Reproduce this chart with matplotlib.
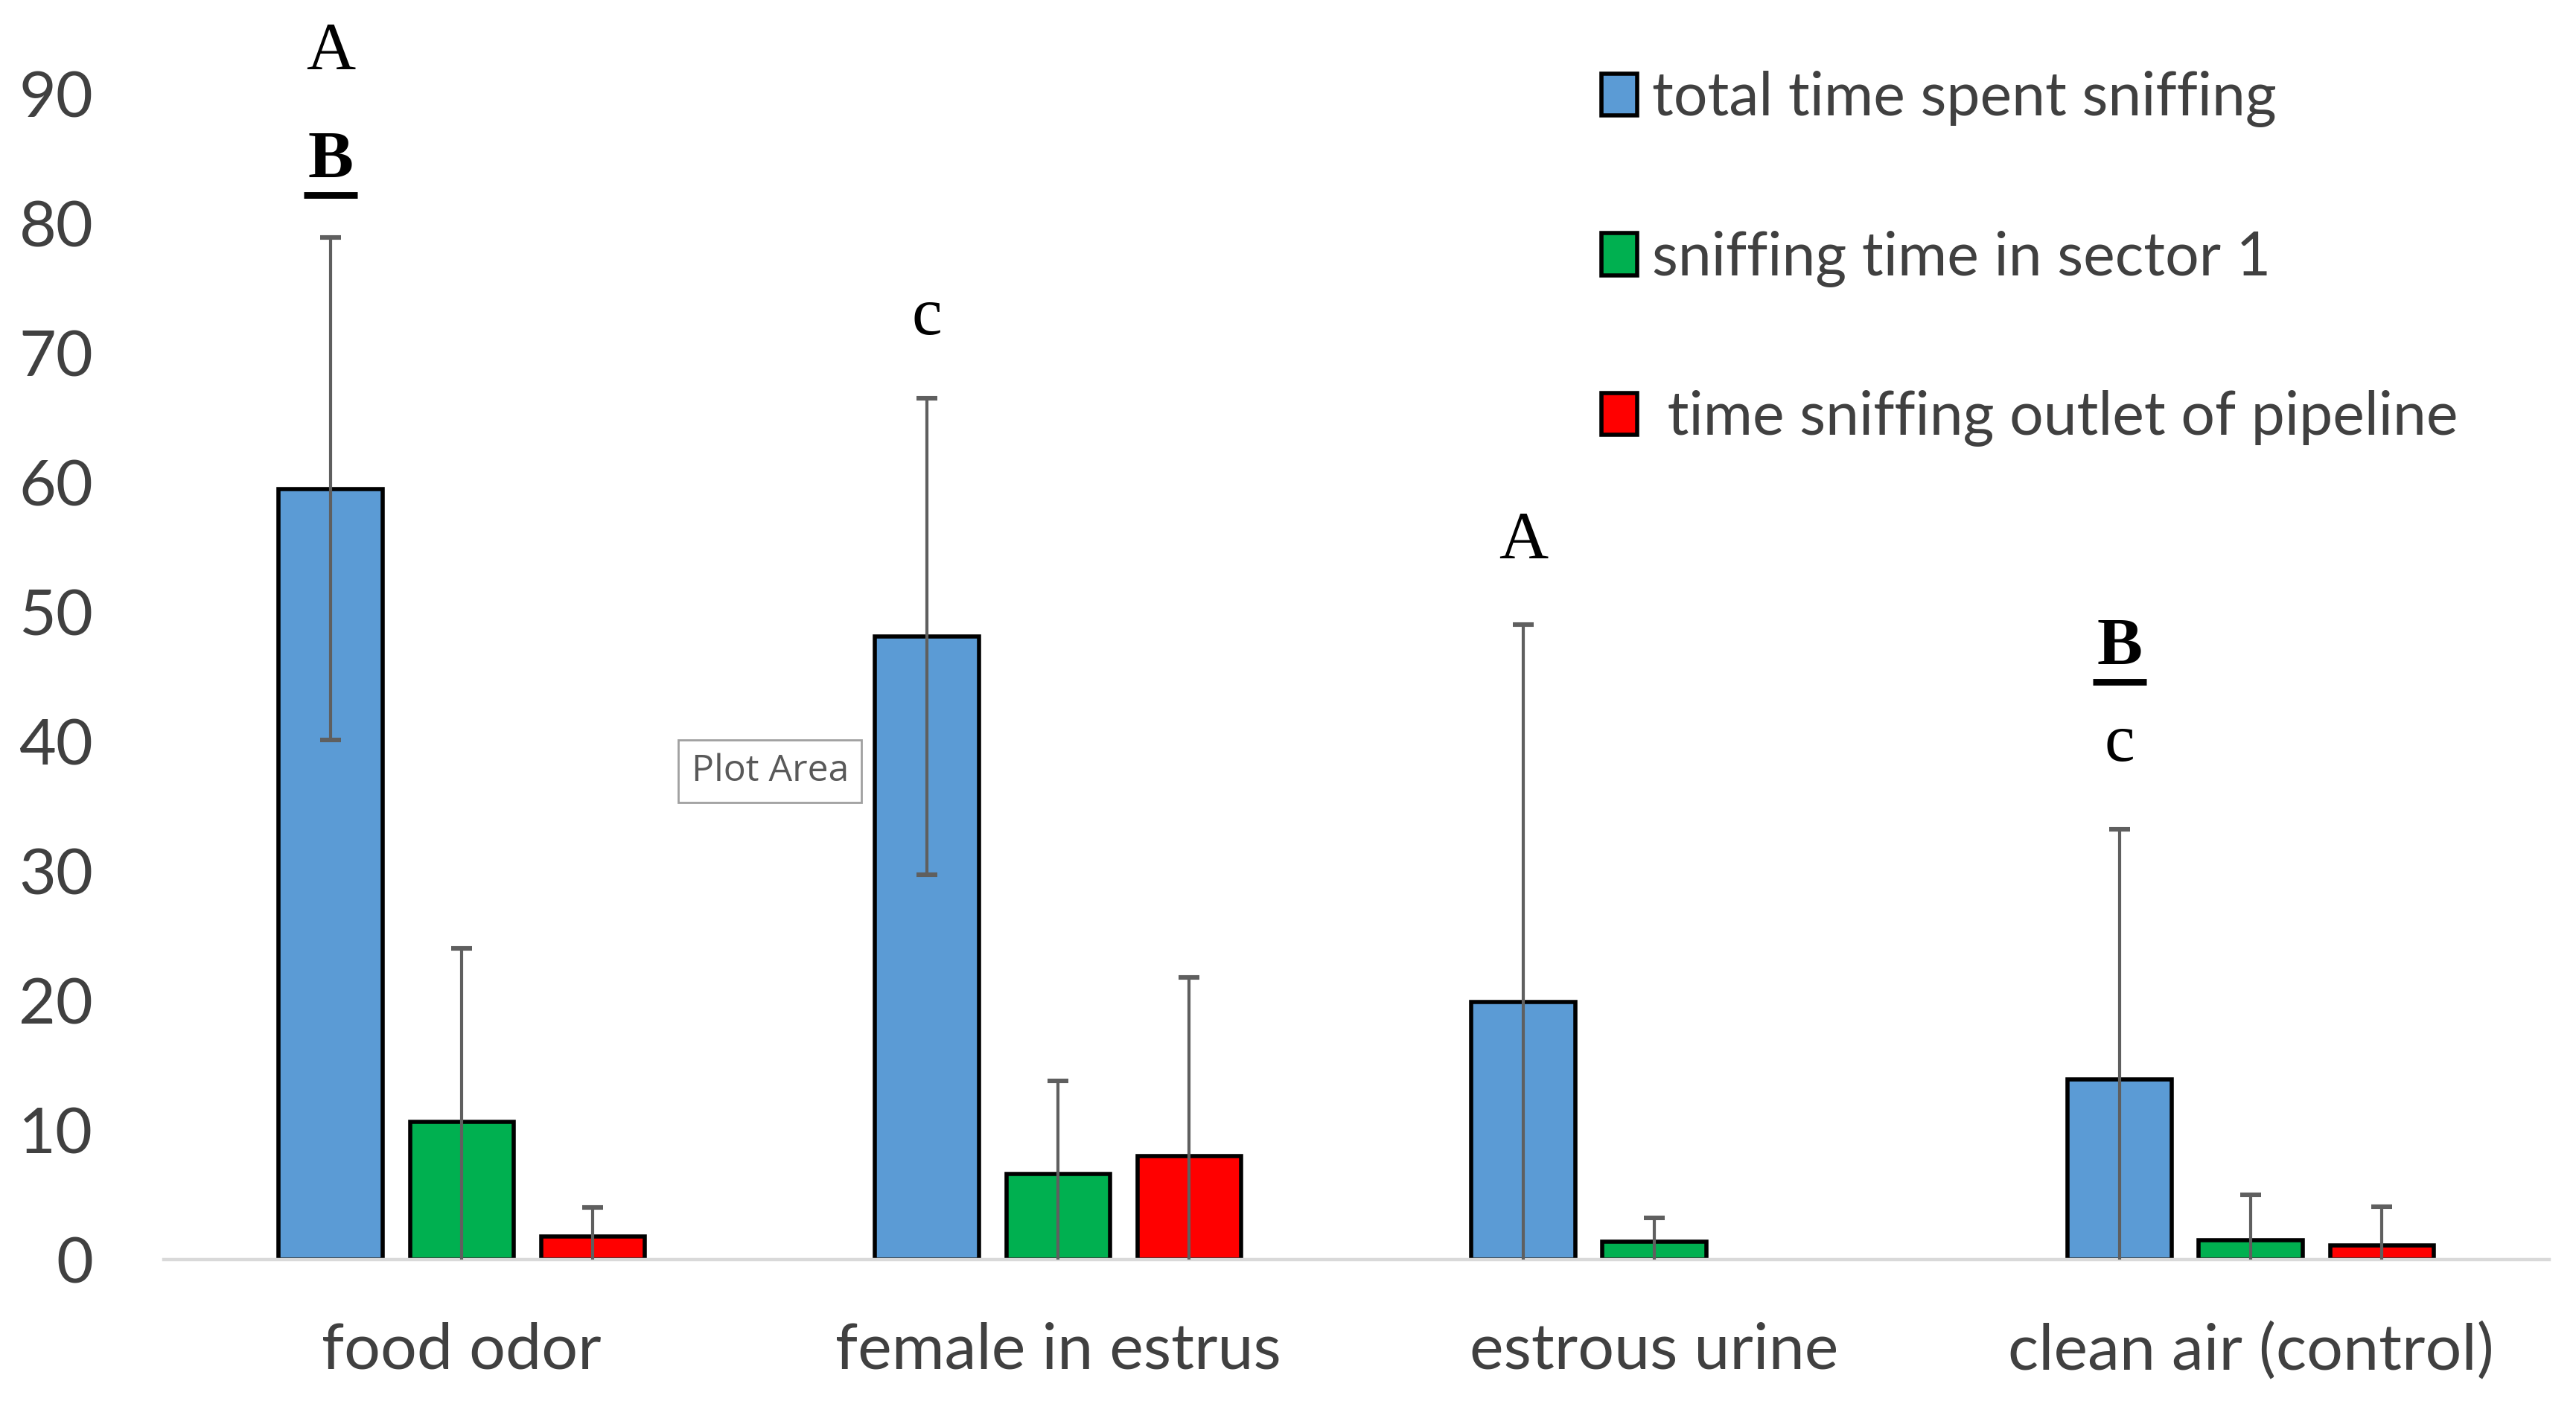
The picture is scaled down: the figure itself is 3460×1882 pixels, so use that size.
import numpy as np
import matplotlib
matplotlib.use("Agg")
from matplotlib import pyplot as plt
from matplotlib.patches import Patch

categories = ["food odor", "female in estrus", "estrous urine", "clean air (control)"]
series_names = ["total time spent sniffing", "sniffing time in sector 1", " time sniffing outlet of pipeline"]
total = [59.5, 48.1, 19.9, 13.9]
total_err = [19.4, 18.4, 29.1, 19.3]
sector1 = [10.6, 6.6, 1.4, 1.5]
sector1_err = [13.4, 7.2, 1.8, 3.5]
outlet = [1.8, 8.0, 0.0, 1.1]
outlet_err = [2.2, 13.8, 0.0, 3.0]
colors = ["#5B9BD5", "#00B050", "#FF0000"]

# significance letters over the blue bars: (category index, y, text, bold+underlined)
letters = [(0, 93.2, "A", False), (0, 84.8, "B", True),
           (1, 72.7, "c", False),
           (2, 55.4, "A", False),
           (3, 47.2, "B", True), (3, 39.8, "c", False)]

plt.rcParams['font.family'] = ['Lato', 'DejaVu Sans']

fig = plt.figure(figsize=(17.3, 9.41), dpi=200)
ax = fig.add_axes([0.0635, 0.101, 0.926, 0.832])

x = np.arange(len(categories))
w = 0.174
step = 0.22
vals = [total, sector1, outlet]
errs = [total_err, sector1_err, outlet_err]
for i in range(3):
    pos = x + (i - 1) * step
    v = np.array(vals[i])
    e = np.array(errs[i])
    mask = v > 0
    ax.bar(pos[mask], v[mask], width=w, color=colors[i], edgecolor="black", linewidth=2.0, zorder=2)
    ax.errorbar(pos[mask], v[mask], yerr=e[mask], fmt="none",
                ecolor="#5f5f5f", elinewidth=1.5, capsize=5, capthick=2.2, zorder=3)

for ci, yv, t, bold in letters:
    xp = x[ci] - step
    if bold:
        ax.text(xp, yv, t, ha="center", va="center", fontsize=33, fontweight="bold",
                family="Liberation Serif", clip_on=False)
        ax.plot([xp - 0.045, xp + 0.045], [yv - 2.6, yv - 2.6], color="black", lw=3.2,
                clip_on=False, solid_capstyle="butt")
    else:
        ax.text(xp, yv, t, ha="center", va="center", fontsize=33,
                family="Liberation Serif", clip_on=False)

ax.set_xlim(-0.5, 3.5)
ax.set_ylim(0, 90)
ax.set_yticks(np.arange(0, 91, 10))
ax.set_xticks(x)
ax.set_xticklabels(categories)
ax.tick_params(axis="both", length=0, labelsize=31, labelcolor="#404040")
ax.tick_params(axis="y", pad=34)
ax.tick_params(axis="x", pad=30)
for s in ["top", "right", "left"]:
    ax.spines[s].set_visible(False)
ax.spines["bottom"].set_color("#d9d9d9")
ax.spines["bottom"].set_linewidth(1.6)

handles = [Patch(facecolor=c, edgecolor="black", linewidth=2.0) for c in colors]
leg = ax.legend(handles, series_names, loc="upper left", bbox_to_anchor=(0.580, 1.066),
                frameon=False, fontsize=29, handlelength=0.6, handleheight=0.7,
                handletextpad=0.25, labelspacing=1.72, labelcolor="#404040")

# tooltip box from the screenshot
ax.text(0.385, 37.7, "Plot Area", fontsize=18, color="#595959", ha="left", va="center",
        family="Open Sans",
        bbox=dict(boxstyle="square,pad=0.35", facecolor="white", edgecolor="#a0a0a0", linewidth=1.0),
        zorder=5)

fig.savefig("out.png", dpi=200)
